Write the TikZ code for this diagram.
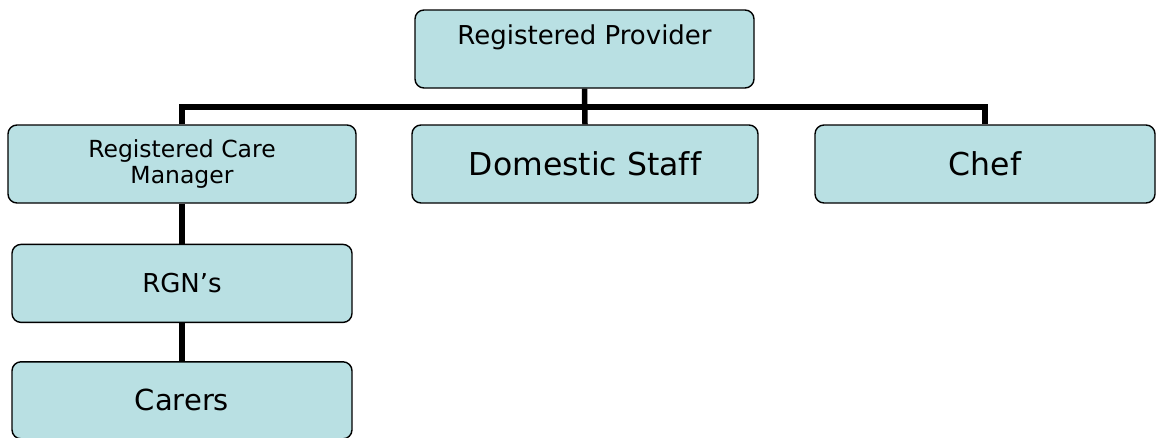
\documentclass[tikz,border=0pt]{standalone}
\usepackage{fontspec}
\setmainfont{DejaVu Sans}[Ligatures=NoCommon]
\definecolor{paleteal}{RGB}{185,224,227}
\usetikzlibrary{positioning}

\begin{document}
\begin{tikzpicture}[x=1pt,y=-1pt,
    rolebox/.style={draw=black, line width=1.4pt, rounded corners=9pt, fill=paleteal,
                    inner sep=0pt, align=center, minimum height=78pt},
    link/.style={line width=5.5pt}]
  \useasboundingbox (0,0) rectangle (1156,437);
  % top of the chart
  \node[rolebox, minimum width=339pt, inner ysep=15pt, text height=19pt, text depth=29pt,
        font=\fontsize{26}{31}\selectfont] (prov) at (584.5,49) {Registered Provider};
  % second row
  \node[rolebox, minimum width=348pt, font=\fontsize{23.5}{26}\selectfont] (care) at (182,164)
    {Registered Care\\Manager};
  \node[rolebox, minimum width=346pt, font=\fontsize{31.5}{37}\selectfont] (dom) at (585,164)
    {Domestic Staff};
  \node[rolebox, minimum width=340pt, font=\fontsize{31.5}{37}\selectfont] (chef) at (985,164)
    {Chef};
  % below the care manager
  \node[rolebox, minimum width=340pt, font=\fontsize{26}{31}\selectfont, below=40pt of care] (rgn)
    {RGN’s};
  \node[rolebox, minimum width=340pt, minimum height=77pt, font=\fontsize{29}{34}\selectfont,
        below=38pt of rgn] (carers) {Carers};

  \coordinate (bar) at (0,107);
  \draw[link] (prov.south) -- (dom.north);
  \draw[link] (care.north) -- (care.north |- bar) -- (chef.north |- bar) -- (chef.north);
  \draw[link] (care.south) -- (rgn.north);
  \draw[link] (rgn.south) -- (carers.north);
\end{tikzpicture}
\end{document}
